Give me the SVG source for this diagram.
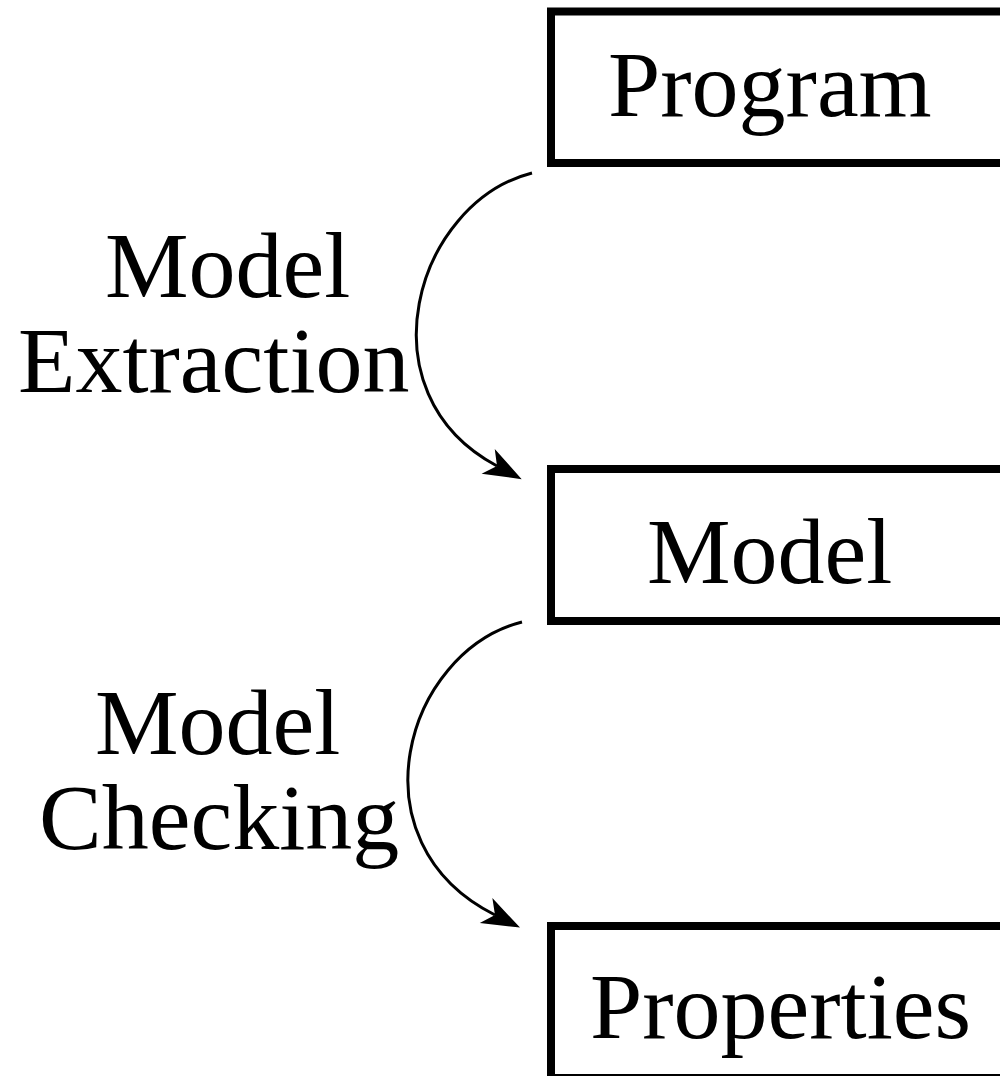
<svg xmlns="http://www.w3.org/2000/svg" width="1000" height="1076" viewBox="0 0 1000 1076">
<style>
.box{fill:#fff;stroke:#000;stroke-width:8}
.t{font-family:"Liberation Serif","Times New Roman",serif;font-size:94px;fill:#000}
.c{fill:none;stroke:#000;stroke-width:3}
</style>
<defs>
<marker id="ah" markerUnits="userSpaceOnUse" markerWidth="60" markerHeight="40" refX="0" refY="0" orient="auto" overflow="visible">
<path d="M28,0 L-10,-14 L0,0 L-10,14 Z" fill="#000"/>
</marker>
</defs>
<rect width="1000" height="1076" fill="#fff"/>
<g id="node-program">
<rect class="box" x="551" y="11.5" width="500" height="151.5"/>
<text class="t" x="608" y="116">Program</text>
</g>
<g id="node-model">
<rect class="box" x="551" y="469" width="500" height="152"/>
<text class="t" x="647" y="583">Model</text>
</g>
<g id="node-properties">
<rect class="box" x="551" y="926" width="500" height="152"/>
<text class="t" x="590" y="1038">Properties</text>
</g>
<g id="label-extraction">
<text class="t" x="105" y="297">Model</text>
<text class="t" x="18" y="392">Extraction</text>
</g>
<g id="label-checking">
<text class="t" x="95" y="754">Model</text>
<text class="t" x="39" y="849">Checking</text>
</g>
<g id="connectors">
<path class="c" d="M532,173 C415,203 360,393 497,466" marker-end="url(#ah)"/>
<path class="c" d="M522,622 C405,652 350,842 495,915" marker-end="url(#ah)"/>
</g>
</svg>
